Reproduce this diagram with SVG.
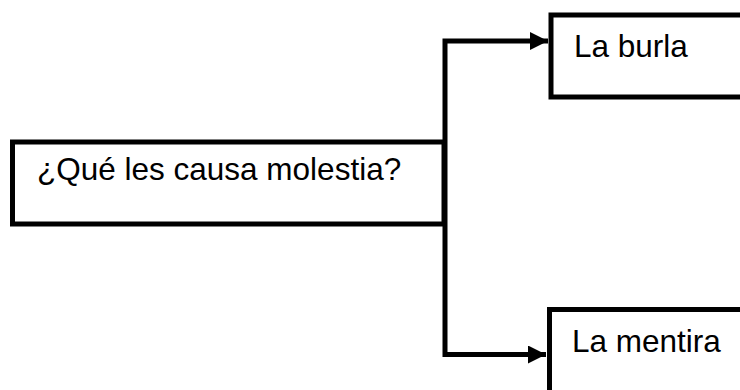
<svg xmlns="http://www.w3.org/2000/svg" width="740" height="390" viewBox="0 0 740 390">
<style>
.box{fill:#fff;stroke:#000;stroke-width:5}
.lbl{font-family:"Liberation Sans",Arial,sans-serif;font-size:31.5px;fill:#000}
.conn{fill:none;stroke:#000;stroke-width:5}
</style>
<defs>
<marker id="arr" markerUnits="userSpaceOnUse" markerWidth="20" markerHeight="18" refX="18" refY="9" orient="auto">
<path d="M0,0 L18,9 L0,18 Z" fill="#000"/>
</marker>
</defs>
<rect width="740" height="390" fill="#fff"/>
<g id="node-root">
<rect class="box" x="12.5" y="142" width="431.5" height="82"/>
<text class="lbl" x="37" y="180">¿Qué les causa molestia?</text>
</g>
<g id="node-burla">
<rect class="box" x="551" y="15" width="200" height="82"/>
<text class="lbl" x="574" y="57">La burla</text>
</g>
<g id="node-mentira">
<rect class="box" x="549.5" y="309.5" width="200" height="100"/>
<text class="lbl" x="572" y="352">La mentira</text>
</g>
<g id="connectors">
<path class="conn" d="M445,183 V41 H548" marker-end="url(#arr)"/>
<path class="conn" d="M445,183 V354.5 H546" marker-end="url(#arr)"/>
</g>
</svg>
